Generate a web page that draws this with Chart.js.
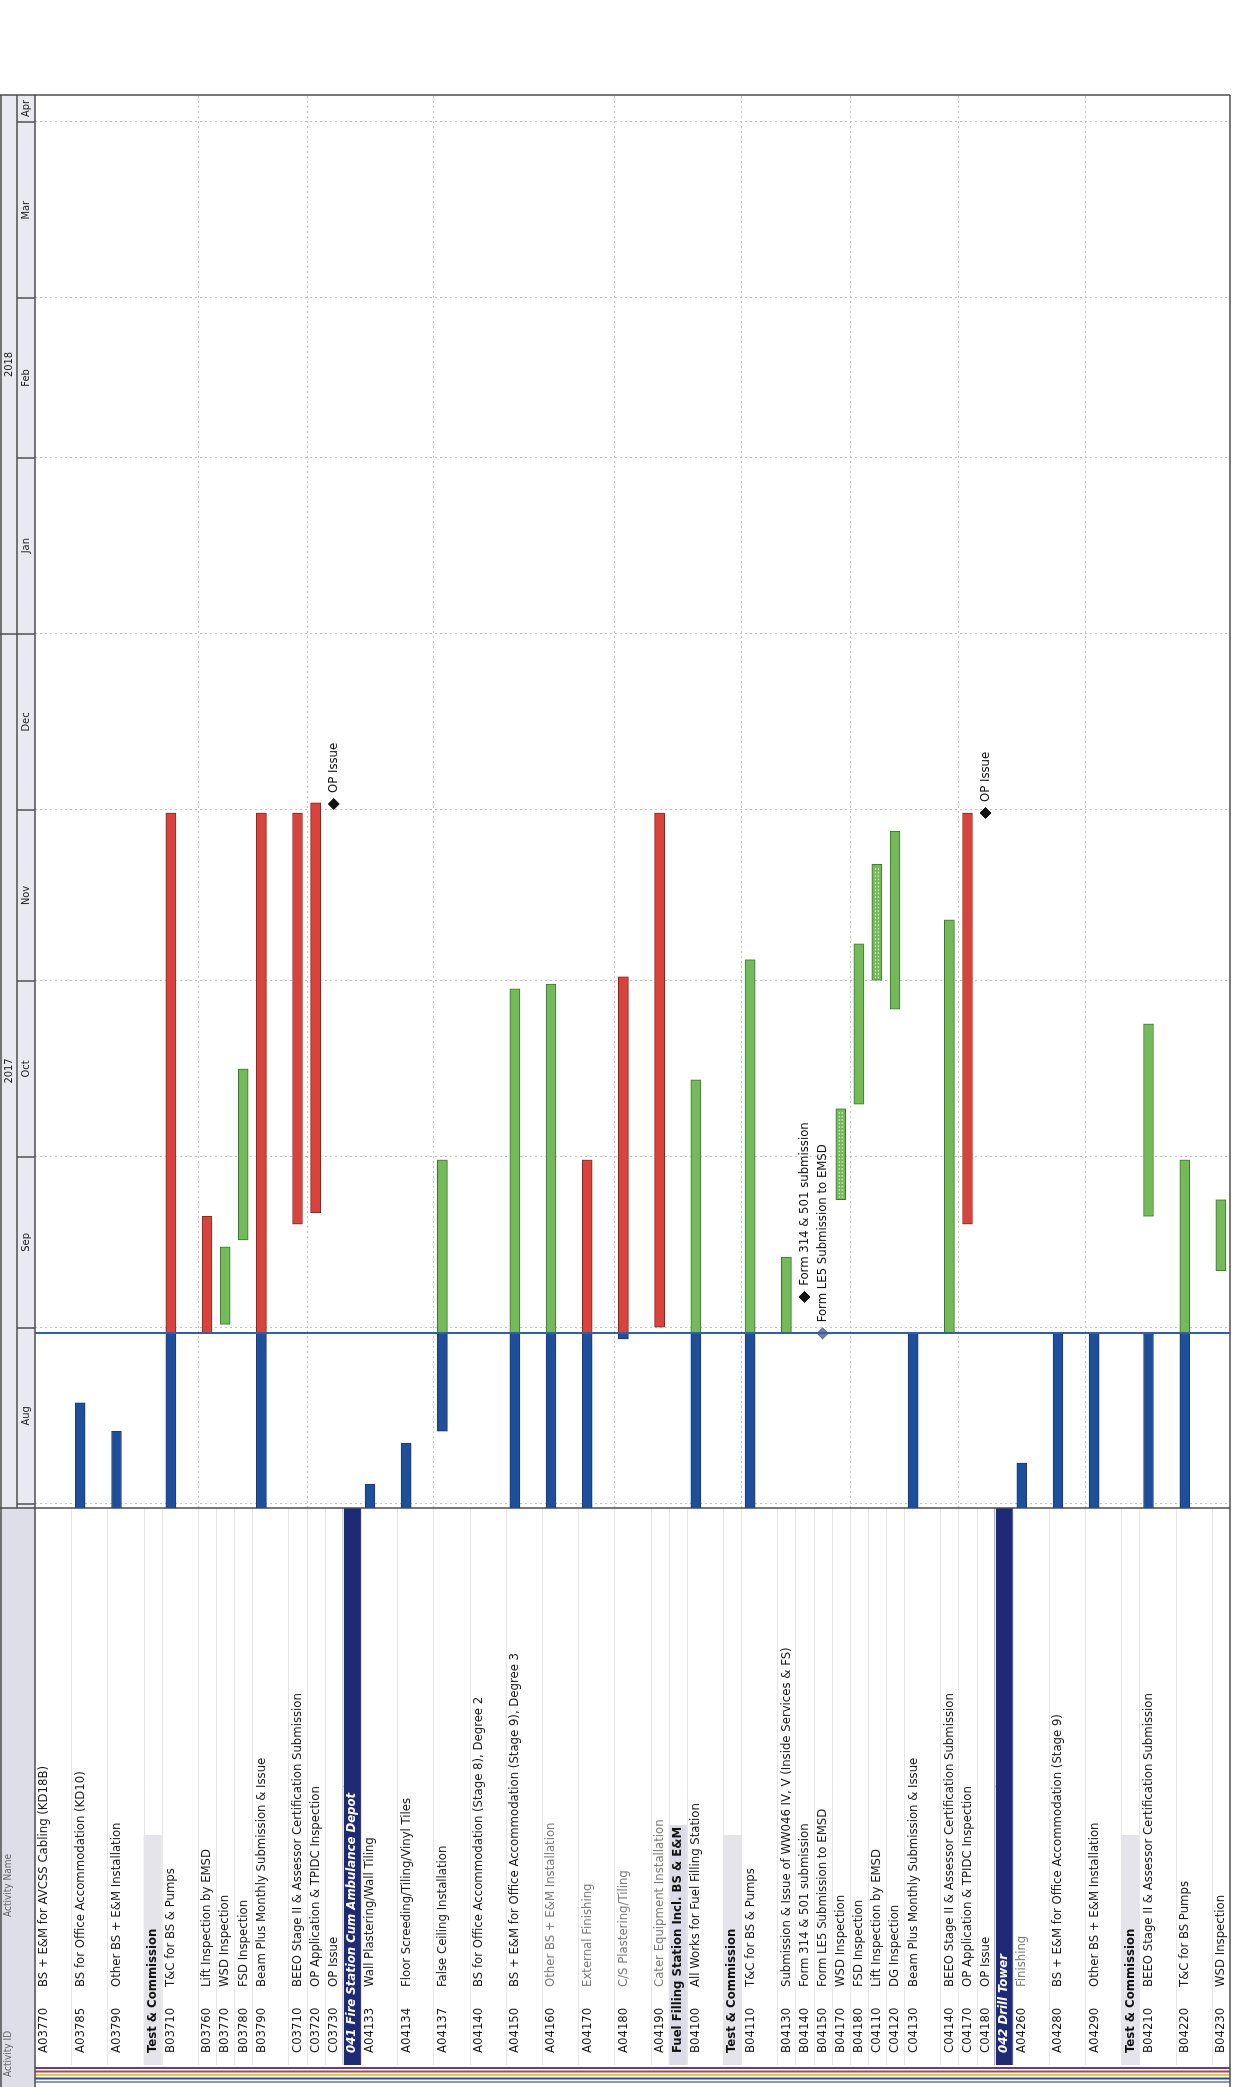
<!DOCTYPE html>
<html lang="en">
<head>
<meta charset="UTF-8">
<title>Programme - Gantt</title>
<script src="https://cdn.jsdelivr.net/npm/chart.js"></script>
<style>
    html, body { margin: 0; padding: 0; background: #fff; }
    #page { position: relative; width: 1240px; height: 2087px; overflow: hidden; background: #fff; }
    /* the sheet is drawn landscape and turned to read bottom-to-top, like the scan */
    #gantt { position: absolute; left: 0; top: 0; width: 2087px; height: 1240px;
             transform-origin: 0 0; transform: translate(0, 2087px) rotate(-90deg); }
</style>
</head>
<body>
<div id="page"><canvas id="gantt" width="2087" height="1240"></canvas></div>

<script>
const FONT = "'Liberation Sans Narrow', 'Arial Narrow', 'DejaVu Sans Condensed', sans-serif";

const ids = ['A03770', 'A03785', 'A03790', '', 'B03710', 'B03760', 'B03770', 'B03780', 'B03790', 'C03710',
    'C03720', 'C03730', '', 'A04133', 'A04134', 'A04137', 'A04140', 'A04150', 'A04160', 'A04170',
    'A04180', 'A04190', '', 'B04100', '', 'B04110', 'B04130', 'B04140', 'B04150', 'B04170',
    'B04180', 'C04110', 'C04120', 'C04130', 'C04140', 'C04170', 'C04180', '', 'A04260', 'A04280',
    'A04290', '', 'B04210', 'B04220', 'B04230'];

const names = [
    'BS + E&M for AVCSS Cabling (KD18B)',
    'BS for Office Accommodation (KD10)',
    'Other BS + E&M Installation',
    'Test & Commission',
    'T&C for BS & Pumps',
    'Lift Inspection by EMSD',
    'WSD Inspection',
    'FSD Inspection',
    'Beam Plus Monthly Submission & Issue',
    'BEEO Stage II & Assessor Certification Submission',
    'OP Application & TPIDC Inspection',
    'OP Issue',
    '041 Fire Station Cum Ambulance Depot',
    'Wall Plastering/Wall Tiling',
    'Floor Screeding/Tiling/Vinyl Tiles',
    'False Ceiling Installation',
    'BS for Office Accommodation (Stage 8), Degree 2',
    'BS + E&M for Office Accommodation (Stage 9), Degree 3',
    'Other BS + E&M Installation',
    'External Finishing',
    'C/S Plastering/Tiling',
    'Cater Equipment Installation',
    'Fuel Filling Station Incl. BS & E&M',
    'All Works for Fuel Filling Station',
    'Test & Commission',
    'T&C for BS & Pumps',
    'Submission & Issue of WW046 IV, V (Inside Services & FS)',
    'Form 314 & 501 submission',
    'Form LE5 Submission to EMSD',
    'WSD Inspection',
    'FSD Inspection',
    'Lift Inspection by EMSD',
    'DG Inspection',
    'Beam Plus Monthly Submission & Issue',
    'BEEO Stage II & Assessor Certification Submission',
    'OP Application & TPIDC Inspection',
    'OP Issue',
    '042 Drill Tower',
    'Finishing',
    'BS + E&M for Office Accommodation (Stage 9)',
    'Other BS + E&M Installation',
    'Test & Commission',
    'BEEO Stage II & Assessor Certification Submission',
    'T&C for BS Pumps',
    'WSD Inspection'
];

// a = activity, d = activity printed grey, g = grouping band, s = sub-WBS band, w = WBS band
const kinds = ['a', 'a', 'a', 'g', 'a', 'a', 'a', 'a', 'a', 'a',
    'a', 'a', 'w', 'a', 'a', 'a', 'a', 'a', 'd', 'd',
    'd', 'd', 's', 'a', 'g', 'a', 'a', 'a', 'a', 'a',
    'a', 'a', 'a', 'a', 'a', 'a', 'a', 'w', 'd', 'a',
    'a', 'g', 'a', 'a', 'a'];

// how many line heights each row takes
const rowSlots = [2, 2, 2, 1, 2, 1, 1, 1, 2, 1,
    1, 1, 1, 2, 2, 2, 2, 2, 2, 2,
    2, 1, 1, 2, 1, 2, 1, 1, 1, 1,
    1, 1, 1, 2, 1, 1, 1, 1, 2, 2,
    2, 1, 2, 2, 1];

const DATA_DATE = '2017-08-31';
const EARLY = '2017-07-01';          // started before the window
const VIEW_FROM = '2017-07-31T07:00';
const VIEW_TO = '2018-04-05T18:00';

const actualBars = [
    ['A03785', EARLY, '2017-08-18T19:00'],
    ['A03790', EARLY, '2017-08-13T19:00'],
    ['B03710', EARLY, DATA_DATE],
    ['B03790', EARLY, DATA_DATE],
    ['A04133', EARLY, '2017-08-04T12:00'],
    ['A04134', EARLY, '2017-08-11T17:00'],
    ['A04137', '2017-08-13T19:00', DATA_DATE],
    ['A04150', EARLY, DATA_DATE],
    ['A04160', EARLY, DATA_DATE],
    ['A04170', EARLY, DATA_DATE],
    ['A04180', '2017-08-30', DATA_DATE],
    ['B04100', EARLY, DATA_DATE],
    ['B04110', EARLY, DATA_DATE],
    ['C04130', EARLY, DATA_DATE],
    ['A04260', EARLY, '2017-08-08T05:00'],
    ['A04280', EARLY, DATA_DATE],
    ['A04290', EARLY, DATA_DATE],
    ['B04210', EARLY, DATA_DATE],
    ['B04220', EARLY, DATA_DATE]
];

const criticalBars = [
    ['B03710', DATA_DATE, '2017-11-30T12:00'],
    ['B03760', DATA_DATE, '2017-09-20T14:00'],
    ['B03790', DATA_DATE, '2017-11-30T12:00'],
    ['C03710', '2017-09-19T05:00', '2017-11-30T12:00'],
    ['C03720', '2017-09-21T05:00', '2017-12-02T07:00'],
    ['A04170', DATA_DATE, '2017-09-30T12:00'],
    ['A04180', DATA_DATE, '2017-11-01T17:00'],
    ['A04190', '2017-09-01T02:00', '2017-11-30T12:00'],
    ['C04170', '2017-09-19T05:00', '2017-11-30T12:00']
];

const remainingBars = [
    ['B03770', '2017-09-01T14:00', '2017-09-15T05:00'],
    ['B03780', '2017-09-16T10:00', '2017-10-16T12:00'],
    ['A04137', DATA_DATE, '2017-09-30T12:00'],
    ['A04150', DATA_DATE, '2017-10-30T14:00'],
    ['A04160', DATA_DATE, '2017-10-31T10:00'],
    ['B04100', DATA_DATE, '2017-10-14T14:00'],
    ['B04110', DATA_DATE, '2017-11-04T17:00'],
    ['B04130', DATA_DATE, '2017-09-13T10:00'],
    ['B04180', '2017-10-10T07:00', '2017-11-07T12:00'],
    ['C04120', '2017-10-27', '2017-11-27T07:00'],
    ['C04140', DATA_DATE, '2017-11-11T17:00'],
    ['B04210', '2017-09-20T14:00', '2017-10-24T10:00'],
    ['B04220', DATA_DATE, '2017-09-30T12:00'],
    ['B04230', '2017-09-11', '2017-09-23T12:00']
];

const effortBars = [
    ['B04170', '2017-09-23T12:00', '2017-10-09T12:00'],
    ['C04110', '2017-11-01T02:00', '2017-11-21T12:00']
];

const milestones = [
    ['C03730', '2017-12-02T02:00'],
    ['B04140', '2017-09-06T10:00'],
    ['B04150', DATA_DATE],
    ['C04180', '2017-11-30T12:00']
];

const monthLabels = ['Aug', 'Sep', 'Oct', 'Nov', 'Dec', 'Jan', 'Feb', 'Mar', 'Apr'];
const monthStarts = ['2017-08-01', '2017-09-01', '2017-10-01', '2017-11-01', '2017-12-01',
    '2018-01-01', '2018-02-01', '2018-03-01', '2018-04-01'];
const yearLabels = ['2017', '2018'];
const yearStarts = ['2017-01-01', '2018-01-01'];

// days since 1 Aug 2017
const T0 = Date.UTC(2017, 7, 1);
function day(s) {
    const iso = s.length > 10 ? s + 'Z' : s + 'T00:00Z';
    return (Date.parse(iso) - T0) / 864e5;
}

const slotStart = [];
const slotKeys = [];
rowSlots.forEach((n, i) => {
    slotStart.push(slotKeys.length);
    for (let k = 0; k < n; k++) slotKeys.push(k ? 'r' + i + '.' + k : 'r' + i);
});
const rowKey = id => 'r' + ids.indexOf(id);
const barData = list => list.map(([id, a, b]) => ({ x: [day(a), day(b)], y: rowKey(id) }));

const HEAD = 35;      // header strip height
const TAB_L = 22;     // table text area starts after the coloured edge lines
const COL_ID = 34;
const COL_NAME = 100;
const LINE = '#4d4d4d';

const sheet = {
    id: 'sheet',
    beforeDatasetsDraw(chart) {
        const { ctx, chartArea: ca, scales: { x, y } } = chart;
        const slotH = (ca.bottom - ca.top) / slotKeys.length;
        const rowTop = i => y.getPixelForValue(slotStart[i]) - slotH / 2;
        ctx.save();

        // table bands
        ids.forEach((id, i) => {
            const top = rowTop(i), h = rowSlots[i] * slotH;
            if (kinds[i] === 'w') {
                ctx.fillStyle = '#1f2a76';
                ctx.fillRect(TAB_L, top, ca.left - TAB_L, h);
            } else if (kinds[i] === 'g') {
                ctx.fillStyle = '#e4e4ea';
                ctx.fillRect(TAB_L, top, 230, h);
            } else if (kinds[i] === 's') {
                ctx.fillStyle = '#dcdce8';
                ctx.fillRect(TAB_L, top, 240, h);
            }
        });

        // faint row lines in the table
        ctx.strokeStyle = '#e6e6e6';
        ctx.lineWidth = 1;
        ids.forEach((id, i) => {
            if (i === 0) return;
            const t = Math.round(rowTop(i)) + 0.5;
            ctx.beginPath(); ctx.moveTo(TAB_L, t); ctx.lineTo(ca.left, t); ctx.stroke();
        });

        // sight lines every 5 rows and month grid
        ctx.strokeStyle = '#c4c4c4';
        ctx.setLineDash([2, 3]);
        for (let i = 5; i < ids.length; i += 5) {
            const t = Math.round(rowTop(i)) + 0.5;
            ctx.beginPath(); ctx.moveTo(ca.left, t); ctx.lineTo(ca.right, t); ctx.stroke();
        }
        monthStarts.forEach(m => {
            const px = Math.round(x.getPixelForValue(day(m))) + 0.5;
            if (px <= ca.left || px >= ca.right) return;
            ctx.beginPath(); ctx.moveTo(px, HEAD); ctx.lineTo(px, ca.bottom); ctx.stroke();
        });
        ctx.setLineDash([]);

        // timescale header
        ctx.fillStyle = '#e9e9f2';
        ctx.fillRect(ca.left, 0, ca.right - ca.left, HEAD);
        ctx.fillStyle = '#dedee9';
        ctx.fillRect(0, 0, ca.left, HEAD);
        ctx.fillStyle = '#222';
        ctx.font = '11px ' + FONT;
        ctx.textAlign = 'center';
        ctx.textBaseline = 'middle';
        const xMax = x.max;
        monthLabels.forEach((lab, i) => {
            const a = Math.max(ca.left, x.getPixelForValue(day(monthStarts[i])));
            const b = Math.min(ca.right, i + 1 < monthStarts.length ? x.getPixelForValue(day(monthStarts[i + 1])) : x.getPixelForValue(xMax));
            ctx.fillText(lab, (a + b) / 2, 26);
        });
        yearLabels.forEach((lab, i) => {
            const a = Math.max(ca.left, x.getPixelForValue(day(yearStarts[i])));
            const b = Math.min(ca.right, i + 1 < yearStarts.length ? x.getPixelForValue(day(yearStarts[i + 1])) : x.getPixelForValue(xMax));
            ctx.fillText(lab, (a + b) / 2, 9);
        });
        ctx.strokeStyle = LINE;
        ctx.lineWidth = 1.5;
        monthStarts.forEach(m => {
            const px = Math.round(x.getPixelForValue(day(m)));
            if (px <= ca.left || px >= ca.right) return;
            const full = m.endsWith('-01-01');
            ctx.beginPath(); ctx.moveTo(px, full ? 0 : 17); ctx.lineTo(px, HEAD); ctx.stroke();
        });
        ctx.beginPath(); ctx.moveTo(ca.left, 17); ctx.lineTo(ca.right, 17); ctx.stroke();

        // table header titles
        ctx.textAlign = 'left';
        ctx.fillStyle = '#666';
        ctx.font = '10px ' + FONT;
        ctx.fillText('Activity ID', 10, 8);
        ctx.fillText('Activity Name', 170, 8);

        // coloured edge lines of the layout
        ['#8797c8', '#2b47a6', '#e0cc3a', '#b0463c', '#5b3f98'].forEach((c, k) => {
            ctx.strokeStyle = c;
            ctx.lineWidth = 2;
            ctx.beginPath(); ctx.moveTo(5 + k * 3.5, HEAD); ctx.lineTo(5 + k * 3.5, ca.bottom); ctx.stroke();
        });

        // frame
        ctx.strokeStyle = LINE;
        ctx.lineWidth = 1.5;
        ctx.beginPath();
        ctx.moveTo(0, 1); ctx.lineTo(ca.right, 1);
        ctx.moveTo(0, HEAD); ctx.lineTo(ca.right, HEAD);
        ctx.moveTo(0, ca.bottom); ctx.lineTo(ca.right, ca.bottom);
        ctx.moveTo(ca.left, 0); ctx.lineTo(ca.left, ca.bottom);
        ctx.moveTo(ca.right, 0); ctx.lineTo(ca.right, ca.bottom);
        ctx.stroke();
        ctx.restore();
    },
    afterDatasetsDraw(chart) {
        const { ctx, chartArea: ca, scales: { x, y } } = chart;
        ctx.save();

        // dotted centre line on level-of-effort bars
        const effortMeta = chart.getDatasetMeta(2);
        ctx.strokeStyle = '#eef7e8';
        ctx.lineWidth = 1;
        ctx.setLineDash([1.5, 2]);
        effortMeta.data.forEach(bar => {
            const p = bar.getProps(['x', 'y', 'base'], true);
            ctx.beginPath(); ctx.moveTo(p.base + 2, p.y - 1.5); ctx.lineTo(p.x - 2, p.y - 1.5);
            ctx.moveTo(p.base + 2, p.y + 1.5); ctx.lineTo(p.x - 2, p.y + 1.5); ctx.stroke();
        });
        ctx.setLineDash([]);

        // data date
        const dd = Math.round(x.getPixelForValue(day(DATA_DATE)));
        ctx.strokeStyle = '#2f5fb0';
        ctx.lineWidth = 2;
        ctx.beginPath(); ctx.moveTo(dd, HEAD); ctx.lineTo(dd, ca.bottom); ctx.stroke();

        // table text
        ctx.textBaseline = 'middle';
        ctx.textAlign = 'left';
        ids.forEach((id, i) => {
            const yc = y.getPixelForValue(slotStart[i]);
            const k = kinds[i];
            if (k === 'w') {
                ctx.fillStyle = '#fff';
                ctx.font = 'italic bold 13px ' + FONT;
                ctx.fillText(names[i], COL_ID, yc);
            } else if (k === 'g' || k === 's') {
                ctx.fillStyle = '#111';
                ctx.font = 'bold 13px ' + FONT;
                ctx.fillText(names[i], COL_ID, yc);
            } else {
                ctx.font = '13px ' + FONT;
                ctx.fillStyle = '#1a1a1a';
                ctx.fillText(id, COL_ID, yc);
                ctx.fillStyle = k === 'd' ? '#7a7a7a' : '#1a1a1a';
                ctx.fillText(names[i], COL_NAME, yc);
            }
        });

        // milestone captions
        ctx.font = '13px ' + FONT;
        ctx.fillStyle = '#111';
        milestones.forEach(([id, t]) => {
            const i = ids.indexOf(id);
            ctx.fillText(names[i], x.getPixelForValue(day(t)) + 11, y.getPixelForValue(slotStart[i]));
        });
        ctx.restore();
    }
};

const barStyle = { barThickness: 10, borderWidth: 1, borderSkipped: false, grouped: false };

new Chart(document.getElementById('gantt'), {
    type: 'bar',
    data: {
        labels: slotKeys,
        datasets: [
            { label: 'Actual Work', data: barData(actualBars), backgroundColor: '#1f4e9a', borderColor: '#173c78', ...barStyle },
            { label: 'Remaining Work', data: barData(remainingBars), backgroundColor: '#74b95a', borderColor: '#3b772c', ...barStyle },
            { label: 'Level of Effort', data: barData(effortBars), backgroundColor: '#74b95a', borderColor: '#3b772c', ...barStyle },
            { label: 'Critical Remaining Work', data: barData(criticalBars), backgroundColor: '#d8443c', borderColor: '#862822', ...barStyle },
            {
                type: 'scatter', label: 'Milestone',
                data: milestones.map(([id, t]) => ({ x: day(t), y: rowKey(id) })),
                pointStyle: 'rectRot', pointRadius: 5.5,
                pointBackgroundColor: milestones.map(([id, t]) => day(t) <= day(DATA_DATE) ? '#6f7f9c' : '#111'),
                pointBorderColor: milestones.map(([id, t]) => day(t) <= day(DATA_DATE) ? '#4d5a75' : '#111')
            }
        ]
    },
    options: {
        indexAxis: 'y',
        responsive: false,
        devicePixelRatio: 1,
        animation: false,
        layout: { padding: { left: 579, right: 95, top: HEAD, bottom: 10 } },
        plugins: { legend: { display: false }, tooltip: { enabled: false } },
        scales: {
            x: { type: 'linear', min: day(VIEW_FROM), max: day(VIEW_TO), display: false },
            y: { type: 'category', offset: true, display: false }
        }
    },
    plugins: [sheet]
});
</script>
</body>
</html>
